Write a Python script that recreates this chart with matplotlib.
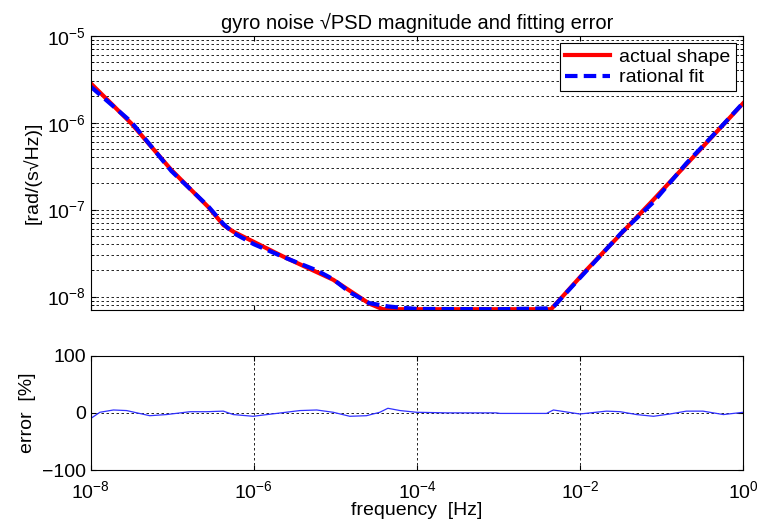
import matplotlib
matplotlib.use("Agg")
from matplotlib import pyplot as plt
from matplotlib import ticker
import numpy as np

plt.rcParams['font.family'] = ['Liberation Sans', 'DejaVu Sans']
plt.rcParams['mathtext.fontset'] = 'custom'
plt.rcParams['mathtext.rm'] = 'Liberation Sans'
plt.rcParams['mathtext.it'] = 'Liberation Sans'
plt.rcParams['font.size'] = 14

# actual shape
f_actual = [1e-8, 3.15e-8, 9.75e-8, 2.74e-7, 4.23e-7, 5.6e-7, 2.3e-6, 9.4e-6,
            2.6e-5, 3.8e-5, 1e-4, 1e-3, 4.4e-3, 5.14e-3, 1.2e-2, 7.85e-2, 0.293, 1.0]
y_actual = [2.84e-6, 9.8e-7, 2.86e-7, 1.08e-7, 6.67e-8, 5.58e-8, 2.88e-8, 1.56e-8,
            8.3e-9, 7.15e-9, 7.15e-9, 7.15e-9, 7.15e-9, 8.4e-9, 2.03e-8, 1.29e-7, 4.85e-7, 1.68e-6]

# rational fit
f_fit = [1e-8, 3.15e-8, 9.75e-8, 2.74e-7, 4.23e-7, 5.6e-7, 1e-6, 2.3e-6, 5.9e-6, 9.4e-6,
         1.5e-5, 2.6e-5, 4.4e-5, 6.3e-5, 1e-4, 1e-3, 3.9e-3, 4.7e-3, 1e-2, 3.2e-2,
         7.85e-2, 0.2, 0.56, 1.0]
y_fit = [2.6e-6, 1.02e-6, 2.78e-7, 1.1e-7, 6.85e-8, 5.4e-8, 4.0e-8, 2.85e-8, 2.0e-8, 1.58e-8,
         1.12e-8, 8.4e-9, 7.7e-9, 7.45e-9, 7.2e-9, 7.15e-9, 7.3e-9, 7.6e-9, 1.65e-8, 5.4e-8,
         1.21e-7, 3.4e-7, 9.4e-7, 1.70e-6]

# fitting error [%]
f_err = [1e-8, 1.3e-8, 1.9e-8, 2.76e-8, 5.3e-8, 8.5e-8, 1.65e-7, 2.64e-7, 4.23e-7, 5.6e-7,
         9.8e-7, 1.9e-6, 3.67e-6, 5.9e-6, 9.4e-6, 1.5e-5, 2.4e-5, 3.5e-5, 4.4e-5, 6.2e-5,
         9.9e-5, 2.3e-4, 9.4e-4, 1.04e-3, 2.65e-3, 3.87e-3, 4.7e-3, 9.9e-3, 2.1e-2, 3.1e-2,
         4.9e-2, 7.9e-2, 0.126, 0.2, 0.32, 0.57, 1.0]
err = [-10, 1, 5, 4, -5, -3, 2, 2, 3, -3,
       -6, -1, 4, 5, 1, -6, -5, 1, 8, 4,
       1, 0, 0, -1, -1, -1, 5, -2, 3, 2,
       -3, -6, -2, 3, 3, -3, 1]

fig = plt.figure(figsize=(7.61, 5.22), dpi=100)
ax1 = fig.add_axes([0.1191, 0.4061, 0.8577, 0.5255])
ax2 = fig.add_axes([0.1191, 0.0996, 0.8577, 0.2190])

ax1.loglog(f_actual, y_actual, color='red', lw=3, label='actual shape')
ax1.loglog(f_fit, y_fit, color='blue', lw=3, ls=(0, (3, 1.5)), label='rational fit')
ax1.set_xlim(1e-8, 1)
ax1.set_ylim(7e-9, 1e-5)
ax1.yaxis.set_major_locator(ticker.LogLocator(base=10, numticks=10))
ax1.yaxis.set_minor_locator(ticker.LogLocator(base=10, subs=np.arange(2, 10), numticks=20))
ax1.yaxis.set_major_formatter(ticker.LogFormatterMathtext())
ax1.yaxis.set_minor_formatter(ticker.NullFormatter())
ax1.xaxis.set_major_locator(ticker.FixedLocator([1e-8, 1e-6, 1e-4, 1e-2, 1]))
ax1.xaxis.set_minor_locator(ticker.NullLocator())
ax1.set_xticklabels([])
ax1.grid(True, which='both', axis='y', color='black', ls=(0, (3, 3)), lw=0.6)
ax1.tick_params(which='both', direction='in', top=True, right=True, labelsize=14)
ax1.set_ylabel('[rad/(s√Hz)]', fontsize=14)
ax1.set_title('gyro noise √PSD magnitude and fitting error', fontsize=14.5, pad=5)
leg = ax1.legend(loc='upper right', fontsize=14, fancybox=False, framealpha=1,
                 edgecolor='black', handlelength=2.3, borderaxespad=0.4,
                 borderpad=0.25, labelspacing=0.15, handletextpad=0.5)
leg.get_frame().set_linewidth(0.8)

ax2.semilogx(f_err, err, color='#3030ff', lw=0.9)
ax2.set_xlim(1e-8, 1)
ax2.set_ylim(-100, 100)
ax2.set_yticks([-100, 0, 100])
ax2.xaxis.set_major_locator(ticker.FixedLocator([1e-8, 1e-6, 1e-4, 1e-2, 1]))
ax2.xaxis.set_major_formatter(ticker.LogFormatterMathtext())
ax2.xaxis.set_minor_locator(ticker.NullLocator())
ax2.grid(True, which='major', color='black', ls=(0, (3, 3)), lw=0.6)
ax2.tick_params(which='both', direction='in', top=True, right=True, labelsize=14)
ax2.tick_params(axis='x', pad=7)
ax2.set_ylabel('error  [%]', fontsize=14)
ax2.set_xlabel('frequency  [Hz]', fontsize=14, labelpad=0)

fig.savefig('out.png', dpi=100)
